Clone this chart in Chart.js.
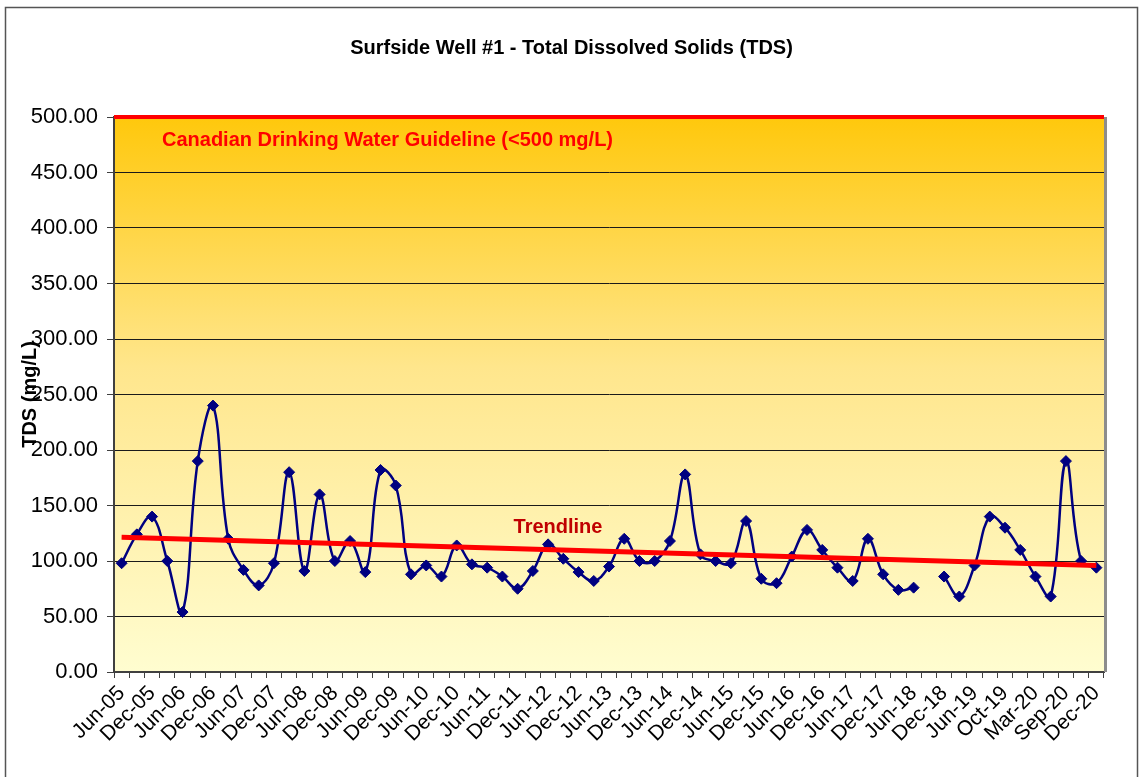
<!DOCTYPE html>
<html>
<head>
<meta charset="utf-8">
<script src="https://cdn.jsdelivr.net/npm/chart.js@4"></script>
<style>
  html, body { margin: 0; padding: 0; background: #fff; }
  #wrap { width: 1143px; height: 777px; position: relative; }
</style>
</head>
<body>
<div id="wrap"><canvas id="tdsChart" width="1143" height="777"></canvas></div>
<script>
// tick labels shown on every second sample
const tickLabels = ['Jun-05', 'Dec-05', 'Jun-06', 'Dec-06', 'Jun-07', 'Dec-07', 'Jun-08', 'Dec-08',
  'Jun-09', 'Dec-09', 'Jun-10', 'Dec-10', 'Jun-11', 'Dec-11', 'Jun-12', 'Dec-12', 'Jun-13', 'Dec-13',
  'Jun-14', 'Dec-14', 'Jun-15', 'Dec-15', 'Jun-16', 'Dec-16', 'Jun-17', 'Dec-17', 'Jun-18', 'Dec-18',
  'Jun-19', 'Oct-19', 'Mar-20', 'Sep-20', 'Dec-20'];

// TDS samples (mg/L), null = no sample
const tdsValues = [98, 124, 140, 100, 54, 190, 240, 120, 92, 78,
  98, 180, 91, 160, 100, 118, 90, 182, 168, 88,
  96, 86, 114, 97, 94, 86, 75, 91, 115, 102,
  90, 82, 95, 120, 100, 100, 118, 178, 106, 100,
  98, 136, 84, 80, 104, 128, 110, 94, 82, 120,
  88, 74, 76, null, 86, 68, 96, 140, 130, 110,
  86, 68, 190, 100, 94];

const trendStart = 121.5;
const trendEnd = 96;
const guideline = 500;

const categories = tdsValues.map((v, i) => (i % 2 === 0 ? tickLabels[i / 2] : ''));
const trendValues = tdsValues.map((v, i) => (i === 0 ? trendStart : i === tdsValues.length - 1 ? trendEnd : null));

const FONT = "'Liberation Sans', Arial, sans-serif";
Chart.defaults.font.family = FONT;
Chart.defaults.color = '#000';

const decorPlugin = {
  id: 'decor',
  beforeDraw(chart) {
    const { ctx, chartArea: a } = chart;
    ctx.save();
    // outer frame
    ctx.strokeStyle = '#555';
    ctx.lineWidth = 1.5;
    ctx.strokeRect(5.5, 7.5, chart.width - 11, chart.height + 20);
    // title
    ctx.font = 'bold 20px ' + FONT;
    ctx.fillStyle = '#000';
    ctx.textAlign = 'center';
    ctx.textBaseline = 'middle';
    ctx.fillText('Surfside Well #1 - Total Dissolved Solids (TDS)', chart.width / 2, 48);
    // plot area gradient
    const g = ctx.createLinearGradient(0, a.top, 0, a.bottom);
    g.addColorStop(0, '#ffc80c');
    g.addColorStop(0.45, '#ffe68c');
    g.addColorStop(1, '#fffdd0');
    ctx.fillStyle = g;
    ctx.fillRect(a.left, a.top, a.right - a.left, a.bottom - a.top);
    ctx.restore();
  },
  afterDatasetsDraw(chart) {
    const { ctx, chartArea: a, scales } = chart;
    const y = scales.y;
    ctx.save();
    // right edge of plot area
    ctx.strokeStyle = '#8c8c8c';
    ctx.lineWidth = 3;
    ctx.beginPath();
    ctx.moveTo(a.right + 1.5, a.top);
    ctx.lineTo(a.right + 1.5, a.bottom);
    ctx.stroke();
    // guideline
    const gy = y.getPixelForValue(guideline);
    ctx.strokeStyle = '#ff0000';
    ctx.lineWidth = 4;
    ctx.beginPath();
    ctx.moveTo(a.left, gy);
    ctx.lineTo(a.right, gy);
    ctx.stroke();
    // text annotations
    ctx.font = 'bold 20px ' + FONT;
    ctx.textBaseline = 'middle';
    ctx.textAlign = 'left';
    ctx.fillStyle = '#ff0000';
    ctx.fillText('Canadian Drinking Water Guideline (<500 mg/L)', a.left + 48, y.getPixelForValue(479));
    ctx.fillStyle = '#c00000';
    ctx.textAlign = 'center';
    ctx.fillText('Trendline', scales.x.getPixelForValue(28.65), y.getPixelForValue(130));
    // y axis title
    ctx.translate(30, (a.top + a.bottom) / 2);
    ctx.rotate(-Math.PI / 2);
    ctx.fillStyle = '#000';
    ctx.fillText('TDS (mg/L)', 0, 0);
    ctx.restore();
  }
};

const ctx = document.getElementById('tdsChart').getContext('2d');
const tdsChart = new Chart(ctx, {
  type: 'line',
  data: {
    labels: categories,
    datasets: [{
      label: 'Trendline',
      data: trendValues,
      borderColor: '#ff0000',
      borderWidth: 5,
      pointRadius: 0,
      spanGaps: true,
      tension: 0
    }, {
      label: 'TDS',
      data: tdsValues,
      borderColor: '#000080',
      backgroundColor: '#000080',
      borderWidth: 2.5,
      pointStyle: 'rectRot',
      pointRadius: 5.5,
      pointBorderWidth: 1,
      spanGaps: false,
      tension: 0.4
    }]
  },
  options: {
    responsive: false,
    animation: false,
    layout: { padding: { left: 0, right: 39, top: 117, bottom: 0 } },
    plugins: {
      legend: { display: false },
      tooltip: { enabled: false },
      title: { display: false }
    },
    scales: {
      x: {
        offset: true,
        grid: { offset: true, drawOnChartArea: false, drawTicks: true, tickLength: 6, tickColor: '#404040', lineWidth: 1 },
        border: { color: '#404040', width: 2 },
        ticks: { autoSkip: false, maxRotation: 45, minRotation: 45, font: { size: 21 }, color: '#000', padding: 3 },
        afterFit(scale) { scale.height = 105; }
      },
      y: {
        min: 0,
        max: 500,
        ticks: { stepSize: 50, font: { size: 22 }, color: '#000', padding: 9,
          callback: v => Number(v).toFixed(2) },
        grid: { color: '#1a1a1a', lineWidth: 1, tickLength: 7, tickColor: '#404040' },
        border: { color: '#404040', width: 2 },
        afterFit(scale) { scale.width = 114; }
      }
    }
  },
  plugins: [decorPlugin]
});
</script>
</body>
</html>
